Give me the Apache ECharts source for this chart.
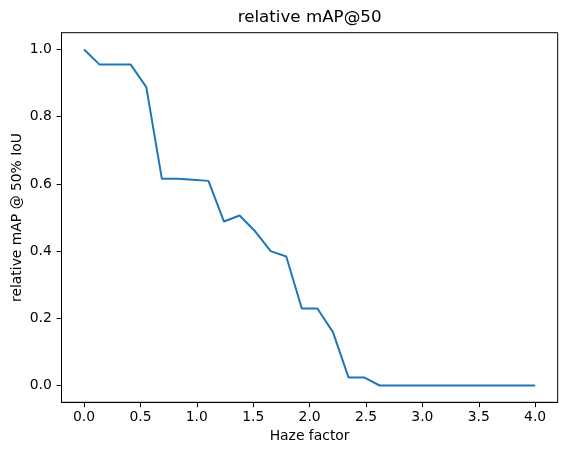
<!DOCTYPE html>
<html>
<head>
<meta charset="utf-8">
<script src="https://cdn.jsdelivr.net/npm/echarts@6/dist/echarts.min.js"></script>
<style>
  html, body { margin: 0; padding: 0; background: #fff; }
  #chart { width: 567px; height: 455px; }
</style>
</head>
<body>
<div id="chart"></div>
<script>
// haze factor: 30 steps from 0 to 4
var hazeFactor = [0.000, 0.138, 0.276, 0.414, 0.552, 0.690, 0.828, 0.966, 1.103, 1.241,
                  1.379, 1.517, 1.655, 1.793, 1.931, 2.069, 2.207, 2.345, 2.483, 2.621,
                  2.759, 2.897, 3.034, 3.172, 3.310, 3.448, 3.586, 3.724, 3.862, 4.000];
var relMap50 = [1.000, 0.955, 0.955, 0.955, 0.888, 0.615, 0.615, 0.612, 0.609, 0.488,
                0.506, 0.459, 0.400, 0.384, 0.229, 0.229, 0.159, 0.024, 0.024, 0.000,
                0.000, 0.000, 0.000, 0.000, 0.000, 0.000, 0.000, 0.000, 0.000, 0.000];
var xTicks = [0, 0.5, 1, 1.5, 2, 2.5, 3, 3.5, 4];
var yTicks = [0, 0.2, 0.4, 0.6, 0.8, 1.0];

var font = 'DejaVu Sans';
var chart = echarts.init(document.getElementById('chart'));

var points = [];
for (var i = 0; i < hazeFactor.length; i++) {
    points.push([hazeFactor[i], relMap50[i]]);
}

chart.setOption({
    animation: false,
    title: {
        text: 'relative mAP@50',
        left: 309.6,
        top: 9,
        padding: 0,
        textAlign: 'center',
        textStyle: { fontFamily: font, fontSize: 16.7, fontWeight: 'normal', color: '#000' }
    },
    grid: {
        left: 61.5, right: 9.3, top: 32.7, bottom: 52.7,
        outerBoundsMode: 'none',
        containLabel: false,
        show: true, borderColor: '#000', borderWidth: 1, backgroundColor: 'transparent'
    },
    xAxis: {
        type: 'value',
        min: -0.2,
        max: 4.2,
        name: 'Haze factor',
        nameLocation: 'middle',
        nameGap: 27,
        nameMoveOverlap: false,
        nameTextStyle: { fontFamily: font, fontSize: 13.9, color: '#000' },
        axisLine: { show: true, onZero: false, lineStyle: { color: '#000', width: 1 } },
        axisTick: { show: true, length: 4.9, customValues: xTicks, lineStyle: { color: '#000', width: 1 } },
        axisLabel: {
            customValues: xTicks, margin: 8,
            fontFamily: font, fontSize: 13.9, color: '#000',
            formatter: function (v) { return v.toFixed(1); }
        },
        splitLine: { show: false }
    },
    yAxis: {
        type: 'value',
        min: -0.05,
        max: 1.05,
        name: 'relative mAP @ 50% IoU',
        nameLocation: 'middle',
        nameGap: 37,
        nameMoveOverlap: false,
        nameTextStyle: { fontFamily: font, fontSize: 13.9, color: '#000' },
        axisLine: { show: true, onZero: false, lineStyle: { color: '#000', width: 1 } },
        axisTick: { show: true, length: 4.9, customValues: yTicks, lineStyle: { color: '#000', width: 1 } },
        axisLabel: {
            customValues: yTicks, margin: 9.7,
            fontFamily: font, fontSize: 13.9, color: '#000',
            formatter: function (v) { return v.toFixed(1); }
        },
        splitLine: { show: false }
    },
    series: [{
        type: 'line',
        data: points,
        showSymbol: false,
        symbol: 'none',
        lineStyle: { color: '#1f77b4', width: 2 },
        itemStyle: { color: '#1f77b4' }
    }]
});
</script>
</body>
</html>
